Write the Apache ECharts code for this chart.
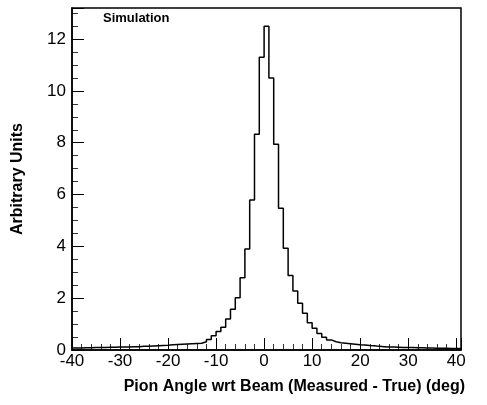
<!DOCTYPE html>
<html><head><meta charset="utf-8">
<script src="https://cdn.jsdelivr.net/npm/echarts@6/dist/echarts.min.js"></script>
<style>html,body{margin:0;background:#fff}#c{width:487px;height:405px}</style>
</head><body><div id="c"></div>
<script>
// bin edges start at -40, width 1 deg
const binStart = -40
const binWidth = 1
const counts = [
  0.08, 0.08, 0.09, 0.09, 0.10, 0.10, 0.10, 0.11, 0.11, 0.12,
  0.12, 0.12, 0.13, 0.13, 0.14, 0.14, 0.15, 0.16, 0.17, 0.18,
  0.20, 0.21, 0.22, 0.23, 0.24, 0.25, 0.26, 0.32, 0.41, 0.55,
  0.71, 0.88, 1.20, 1.57, 2.02, 2.79, 3.90, 5.79, 8.33, 11.30,
  12.50, 10.50, 7.94, 5.47, 3.93, 2.88, 2.28, 1.80, 1.42, 1.05,
  0.84, 0.64, 0.49, 0.39, 0.32, 0.28, 0.26, 0.24, 0.22, 0.20,
  0.19, 0.17, 0.16, 0.14, 0.13, 0.12, 0.12, 0.11, 0.10, 0.10,
  0.10, 0.09, 0.09, 0.08, 0.08, 0.07, 0.07, 0.07, 0.06, 0.06, 0.06
]
const xTickLabels = ['-40', '-30', '-20', '-10', '0', '10', '20', '30', '40']

const steps = []
counts.forEach((v, i) => {
  const a = binStart + i * binWidth
  steps.push([a, v], [a + binWidth, v])
})

const font = 'Liberation Sans, Arial, sans-serif'
const chart = echarts.init(document.getElementById('c'))
chart.setOption({
  animation: false,
  grid: { left: 72, right: 26, top: 8, bottom: 55, show: true, borderColor: '#000', borderWidth: 1.5 },
  graphic: [{ type: 'text', left: 103, top: 12, style: { text: 'Simulation', font: 'bold 13px ' + font, fill: '#000' } }],
  xAxis: {
    type: 'value', min: -40, max: 41, interval: 10,
    name: 'Pion Angle wrt Beam (Measured - True) (deg)', nameLocation: 'end',
    nameGap: 0,
    nameTextStyle: { fontFamily: font, fontWeight: 'bold', fontSize: 16, color: '#000', align: 'right', verticalAlign: 'top', padding: [29, -4, 0, 0] },
    axisLine: { onZero: false, lineStyle: { color: '#000', width: 1.5 } },
    axisTick: { inside: true, length: 12, lineStyle: { color: '#000', width: 1 } },
    minorTick: { show: true, splitNumber: 5, length: 6, lineStyle: { color: '#000', width: 0.8 } },
    splitLine: { show: false },
    axisLabel: { fontFamily: font, fontSize: 17, color: '#000', margin: 3,
      formatter: v => xTickLabels.includes(String(v)) ? String(v) : '' }
  },
  yAxis: {
    type: 'value', min: 0, max: 13.2, interval: 2,
    name: 'Arbitrary Units', nameLocation: 'middle', nameGap: 46,
    nameTextStyle: { fontFamily: font, fontWeight: 'bold', fontSize: 16, color: '#000' },
    axisLine: { show: true, onZero: false, lineStyle: { color: '#000', width: 1.5 } },
    axisTick: { inside: true, length: 12, lineStyle: { color: '#000', width: 1 } },
    minorTick: { show: true, splitNumber: 4, length: 6, lineStyle: { color: '#000', width: 0.8 } },
    splitLine: { show: false },
    axisLabel: { fontFamily: font, fontSize: 17, color: '#000', margin: 6,
      formatter: v => (v % 2 === 0 && v <= 12) ? String(v) : '' }
  },
  series: [{
    type: 'line', data: steps, showSymbol: false, symbol: 'none',
    lineStyle: { color: '#000', width: 1.5 }
  }]
})
</script></body></html>
